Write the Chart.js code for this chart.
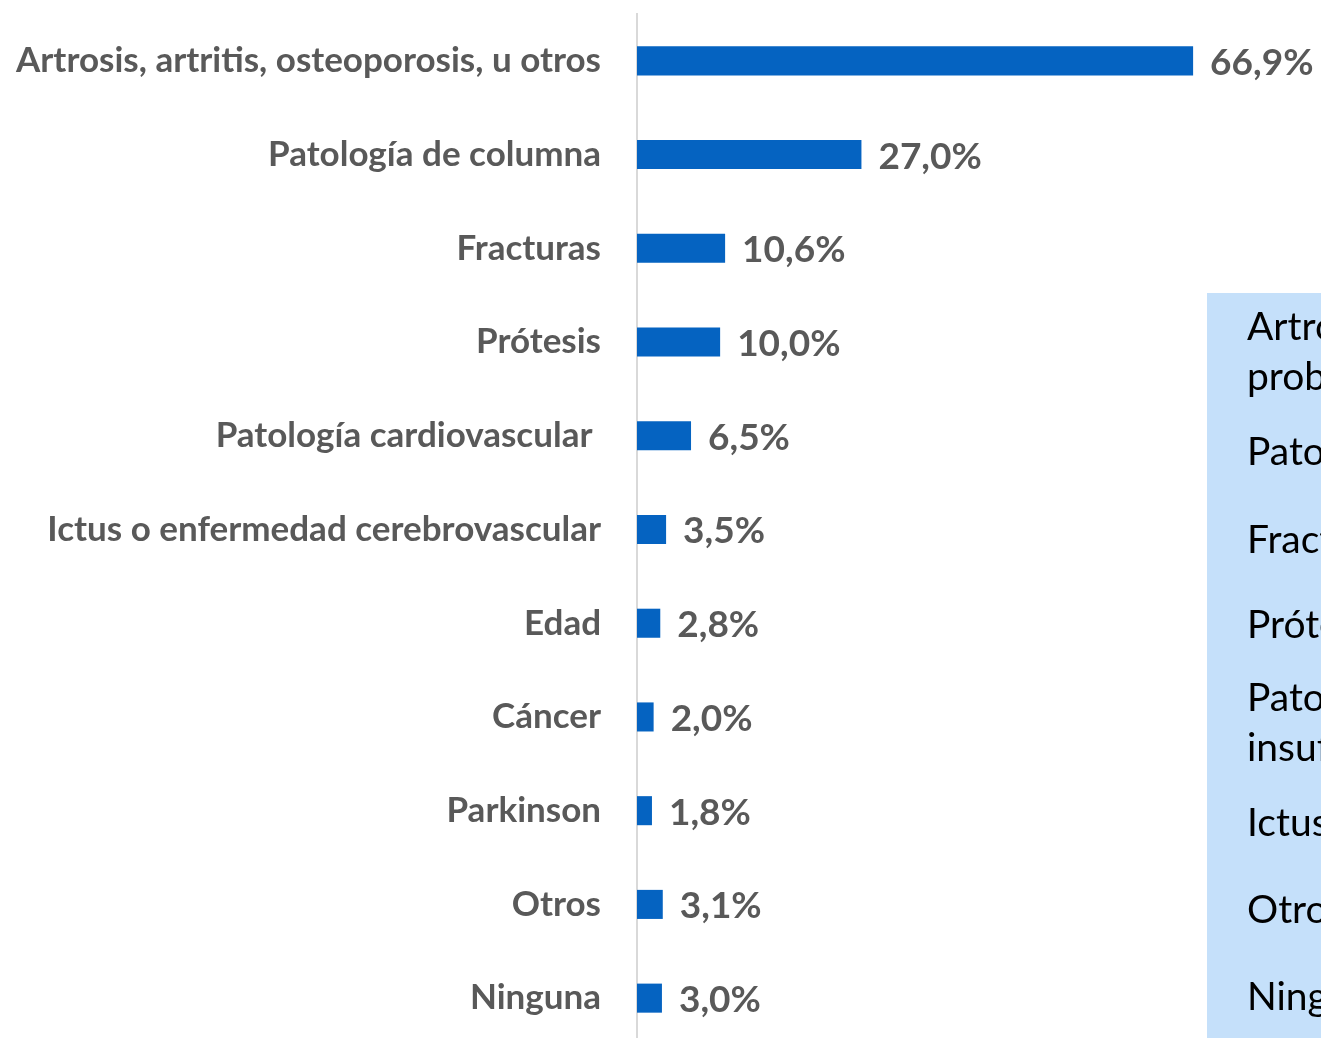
<!DOCTYPE html>
<html>
<head>
<meta charset="utf-8">
<script src="https://cdn.jsdelivr.net/npm/chart.js@4"></script>
<style>
  html, body { margin: 0; padding: 0; background: #fff; overflow: hidden; }
  #wrap { position: relative; width: 1321px; height: 1060px; }
</style>
</head>
<body>
<div id="wrap"><canvas id="myBarChart"></canvas></div>
<script>
// categories and values (%)
const categorias = [
  "Artrosis, artritis, osteoporosis, u otros",
  "Patología de columna",
  "Fracturas",
  "Prótesis",
  "Patología cardiovascular ",
  "Ictus o enfermedad cerebrovascular",
  "Edad",
  "Cáncer",
  "Parkinson",
  "Otros",
  "Ninguna"
];
const porcentajes = [66.9, 27.0, 10.6, 10.0, 6.5, 3.5, 2.8, 2.0, 1.8, 3.1, 3.0];

// text of the side box (cut off by the right edge)
const cuadroLineas = [
  "Artrosis, artritis, osteoporosis u otros",
  "problemas osteoarticulares",
  "Patología de columna",
  "Fracturas",
  "Prótesis",
  "Patología cardiovascular,",
  "insuficiencia cardíaca",
  "Ictus o enfermedad cerebrovascular",
  "Otros",
  "Ninguna"
];
const cuadroBase = [340, 390, 465, 553, 638, 711, 761, 836, 923, 1010];

const GRIS = "#595959";

// draws the value label at the end of each bar
const valueLabels = {
  id: "valueLabels",
  afterDatasetsDraw(chart) {
    const ctx = chart.ctx;
    const meta = chart.getDatasetMeta(0);
    ctx.save();
    ctx.font = "bold 37px Lato";
    ctx.fillStyle = GRIS;
    ctx.textAlign = "left";
    ctx.textBaseline = "middle";
    meta.data.forEach(function (bar, i) {
      const txt = porcentajes[i].toFixed(1).replace(".", ",") + "%";
      ctx.fillText(txt, bar.x + 17, bar.y + 2);
    });
    ctx.restore();
  }
};

// light blue box on the right
const sideBox = {
  id: "sideBox",
  beforeDatasetsDraw(chart) {
    const ctx = chart.ctx;
    ctx.save();
    ctx.fillStyle = "#C5E0FA";
    ctx.fillRect(1207, 293, chart.width - 1207, chart.height - 293);
    ctx.font = "39px Lato";
    ctx.fillStyle = "#000";
    ctx.textAlign = "left";
    ctx.textBaseline = "alphabetic";
    cuadroLineas.forEach(function (t, i) {
      ctx.fillText(t, 1247, cuadroBase[i]);
    });
    ctx.restore();
  }
};

function setupBarChart() {
  var ctx = document.getElementById("myBarChart");
  if (!ctx) {
    console.error("Canvas for myBarChart not found!");
    return null;
  }
  return new Chart(ctx, {
    type: "bar",
    data: {
      labels: categorias,
      datasets: [{
        data: porcentajes,
        backgroundColor: "#0563C1",
        borderWidth: 0,
        categoryPercentage: 1,
        barPercentage: 0.31
      }]
    },
    options: {
      indexAxis: "y",
      responsive: true,
      maintainAspectRatio: false,
      animation: false,
      layout: { padding: { top: 14, bottom: 15, right: 19, left: 0 } },
      plugins: {
        legend: { display: false },
        tooltip: { enabled: false }
      },
      scales: {
        x: { display: false, min: 0, max: 80 },
        y: {
          afterFit: function (scale) {
            scale.width = 637;
            scale.paddingTop = 0;
            scale.paddingBottom = 0;
          },
          grid: { color: "transparent", drawTicks: false },
          border: { display: true, color: "#D9D9D9", width: 2 },
          ticks: {
            color: GRIS,
            padding: 36,
            font: { family: "Lato", size: 35, weight: "bold" }
          }
        }
      }
    },
    plugins: [sideBox, valueLabels]
  });
}

setupBarChart();
</script>
</body>
</html>
